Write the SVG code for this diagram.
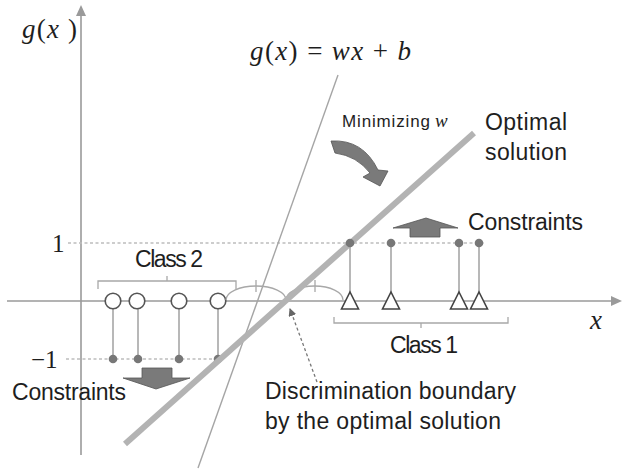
<svg xmlns="http://www.w3.org/2000/svg" width="622" height="470" viewBox="0 0 622 470">
<style>
.lbl{font-family:"Liberation Sans",Arial,sans-serif;fill:#1e1e1e;}
.math{font-family:"Liberation Serif","Times New Roman",serif;fill:#1e1e1e;}
.it{font-style:italic;}
.axis{stroke:#9a9a9a;stroke-width:1.6;fill:none;}
.dot-line{stroke:#bdbdbd;stroke-width:1.3;stroke-dasharray:3 2.5;fill:none;}
.stem{stroke:#a0a0a0;stroke-width:1.5;fill:none;}
.pt{fill:#777;}
.circ{fill:#fff;stroke:#555;stroke-width:1.6;}
.tri{fill:#fff;stroke:#444;stroke-width:1.6;stroke-linejoin:miter;}
.brk{stroke:#a8a8a8;stroke-width:1.3;fill:none;}
.block{fill:#7a7a7a;stroke:#555;stroke-width:0.8;}
</style>
<defs>
<marker id="ah" markerWidth="8" markerHeight="8" refX="7" refY="4" orient="auto" markerUnits="userSpaceOnUse">
<path d="M0,0 L8,4 L0,8 Z" fill="#666"/>
</marker>
</defs>
<rect width="622" height="470" fill="#fff"/>

<g id="axes">
<line class="axis" x1="81" y1="455" x2="81" y2="14"/>
<path d="M76,16 L81,5 L86,16 Z" fill="#9a9a9a"/>
<line class="axis" x1="7" y1="301" x2="612" y2="301"/>
<path d="M611,296 L622,301 L611,306 Z" fill="#9a9a9a"/>
<text class="math" x="22" y="38" font-size="27" textLength="55"><tspan class="it">g</tspan>(<tspan class="it">x</tspan> )</text>
<text class="math it" x="590" y="329" font-size="27">x</text>
<text class="math" x="52" y="252" font-size="25">1</text>
<text class="math" x="31" y="368" font-size="25">−1</text>
</g>

<g id="levels">
<line class="dot-line" x1="68" y1="243" x2="486" y2="243"/>
<line class="dot-line" x1="66" y1="359" x2="218" y2="359"/>
</g>

<g id="line-wx-b">
<line x1="338" y1="75" x2="198" y2="468" stroke="#a5a5a5" stroke-width="1.4"/>
<text class="math" x="250" y="60" font-size="27" textLength="161"><tspan class="it">g</tspan>(<tspan class="it">x</tspan>) = <tspan class="it">wx</tspan> + <tspan class="it">b</tspan></text>
</g>

<g id="class2">
<line class="stem" x1="113" y1="308" x2="113" y2="359"/>
<line class="stem" x1="138" y1="308" x2="138" y2="359"/>
<line class="stem" x1="179" y1="308" x2="179" y2="359"/>
<line class="stem" x1="218" y1="308" x2="218" y2="359"/>
<circle class="pt" cx="113" cy="359" r="4.3"/>
<circle class="pt" cx="138" cy="359" r="4.3"/>
<circle class="pt" cx="179" cy="359" r="4.3"/>
<circle class="pt" cx="218" cy="359" r="4.3"/>
<circle class="circ" cx="113" cy="301" r="7.8"/>
<circle class="circ" cx="137" cy="301" r="7.8"/>
<circle class="circ" cx="179" cy="301" r="7.8"/>
<circle class="circ" cx="218" cy="301" r="7.8"/>
<path class="brk" d="M98,289 L98,281 L236,281 L236,289 M167,281 L167,276"/>
<text class="lbl" x="135" y="267" font-size="23" textLength="68">Class 2</text>
</g>

<g id="class1">
<line class="stem" x1="350" y1="243" x2="350" y2="292"/>
<line class="stem" x1="391" y1="243" x2="391" y2="292"/>
<line class="stem" x1="459" y1="243" x2="459" y2="292"/>
<line class="stem" x1="479" y1="243" x2="479" y2="292"/>
<circle class="pt" cx="391" cy="243" r="4.3"/>
<circle class="pt" cx="459" cy="243" r="4.3"/>
<circle class="pt" cx="479" cy="243" r="4.3"/>
<path class="tri" d="M350,292 L358.5,309 L341.5,309 Z"/>
<path class="tri" d="M391,292 L399.5,309 L382.5,309 Z"/>
<path class="tri" d="M459,292 L467.5,309 L450.5,309 Z"/>
<path class="tri" d="M479,292 L487.5,309 L470.5,309 Z"/>
<path class="brk" d="M334,317 L334,323 L508,323 L508,317 M421,323 L421,328"/>
<text class="lbl" x="390" y="353" font-size="23" textLength="68">Class 1</text>
</g>

<g id="margins">
<path class="brk" d="M226,300 A30 14 0 0 1 286,300 A28.5 14 0 0 1 343,300"/>
<path class="brk" d="M256,280 L256,292 M315,280 L315,292"/>
</g>

<g id="optimal-line">
<line x1="125" y1="444" x2="474" y2="133" stroke="#b3b3b3" stroke-width="6"/>
<circle class="pt" cx="350" cy="243" r="4.3"/>
<text class="lbl" x="485" y="130" font-size="23" textLength="82">Optimal</text>
<text class="lbl" x="485" y="160" font-size="23" textLength="82">solution</text>
</g>

<g id="minimizing">
<path class="block" d="M331,141 Q363,139 378,170 L388,171 L380,186 L363,177 L370,173 Q357,156 335,153 Z"/>
<text class="lbl" x="342" y="127" font-size="17" textLength="88">Minimizing</text>
<text class="math it" x="435" y="127" font-size="19">w</text>
</g>

<g id="constraints-up">
<path class="block" d="M426,218 L458,228 L440,228 L440,237 L410,237 L410,228 L393,228 Z"/>
<text class="lbl" x="468" y="230" font-size="23" textLength="115">Constraints</text>
</g>

<g id="constraints-down">
<path class="block" d="M142,368 L172,368 L172,378 L190,378 L156,389 L123,378 L142,378 Z"/>
<text class="lbl" x="12" y="400" font-size="23" textLength="114">Constraints</text>
</g>

<g id="connectors">
<line x1="317" y1="382" x2="290" y2="309" stroke="#777" stroke-width="1.3" stroke-dasharray="3 2.5" marker-end="url(#ah)"/>
</g>

<g id="boundary-label">
<text class="lbl" x="265" y="399" font-size="23" textLength="251">Discrimination boundary</text>
<text class="lbl" x="265" y="429" font-size="23" textLength="236">by the optimal solution</text>
</g>
</svg>
